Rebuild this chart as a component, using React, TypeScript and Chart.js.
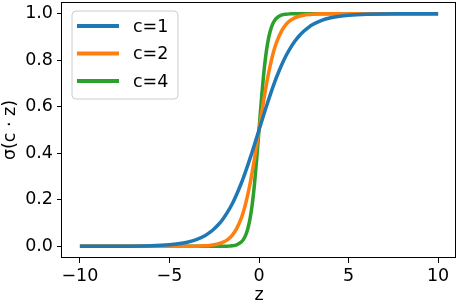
import React, { useEffect, useRef } from "react";
import { Chart, registerables } from "chart.js";

Chart.register(...registerables);

const zValues = [
  -10, -8, -6, -5, -4.5, -4, -3.5, -3, -2.75, -2.5, -2.25, -2, -1.75, -1.5, -1.25, -1,
  -0.875, -0.75, -0.625, -0.5, -0.375, -0.25, -0.125, 0,
  0.125, 0.25, 0.375, 0.5, 0.625, 0.75, 0.875, 1, 1.25, 1.5, 1.75, 2, 2.25, 2.5, 2.75,
  3, 3.5, 4, 4.5, 5, 6, 8, 10,
];

const sigmaC1 = [
  0.0, 0.0003, 0.0025, 0.0067, 0.011, 0.018, 0.029, 0.047, 0.06, 0.076, 0.095, 0.119, 0.148, 0.182, 0.223, 0.269,
  0.294, 0.321, 0.349, 0.378, 0.407, 0.438, 0.469, 0.5,
  0.531, 0.562, 0.593, 0.622, 0.651, 0.679, 0.706, 0.731, 0.777, 0.818, 0.852, 0.881, 0.905, 0.924, 0.94,
  0.953, 0.971, 0.982, 0.989, 0.9933, 0.9975, 0.9997, 1.0,
];

const sigmaC2 = [
  0.0, 0.0, 0.0, 0.0, 0.0001, 0.0003, 0.0009, 0.0025, 0.0041, 0.0067, 0.011, 0.018, 0.029, 0.047, 0.076, 0.119,
  0.148, 0.182, 0.223, 0.269, 0.321, 0.378, 0.438, 0.5,
  0.562, 0.622, 0.679, 0.731, 0.777, 0.818, 0.852, 0.881, 0.924, 0.953, 0.971, 0.982, 0.989, 0.9933, 0.9959,
  0.9975, 0.9991, 0.9997, 0.9999, 1.0, 1.0, 1.0, 1.0,
];

const sigmaC4 = [
  0.0, 0.0, 0.0, 0.0, 0.0, 0.0, 0.0, 0.0, 0.0, 0.0, 0.0001, 0.0003, 0.0009, 0.0025, 0.0067, 0.018,
  0.029, 0.047, 0.076, 0.119, 0.182, 0.269, 0.378, 0.5,
  0.622, 0.731, 0.818, 0.881, 0.924, 0.953, 0.971, 0.982, 0.9933, 0.9975, 0.9991, 0.9997, 0.9999, 1.0, 1.0,
  1.0, 1.0, 1.0, 1.0, 1.0, 1.0, 1.0, 1.0,
];

const seriesLabels = ["c=1", "c=2", "c=4"];
const seriesColors = ["#1f77b4", "#ff7f0e", "#2ca02c"];
const xTicks = [-10, -5, 0, 5, 10];
const yTicks = [0, 0.2, 0.4, 0.6, 0.8, 1.0];

const FONT = "'DejaVu Sans', sans-serif";
const FS = 17.5;

const framePlugin = {
  id: "frame",
  afterDraw(chart: any) {
    const { ctx, chartArea } = chart;
    const { left, top, right, bottom } = chartArea;
    ctx.save();
    ctx.strokeStyle = "#000";
    ctx.lineWidth = 1;
    ctx.strokeRect(Math.round(left) - 0.5, Math.round(top) + 0.5, Math.round(right - left), Math.round(bottom - top) - 1);

    // legend
    const lx = left + 10;
    const ly = top + 9;
    const lw = 106;
    const lh = 88;
    const r = 4;
    ctx.beginPath();
    ctx.moveTo(lx + r, ly);
    ctx.lineTo(lx + lw - r, ly);
    ctx.arcTo(lx + lw, ly, lx + lw, ly + r, r);
    ctx.lineTo(lx + lw, ly + lh - r);
    ctx.arcTo(lx + lw, ly + lh, lx + lw - r, ly + lh, r);
    ctx.lineTo(lx + r, ly + lh);
    ctx.arcTo(lx, ly + lh, lx, ly + lh - r, r);
    ctx.lineTo(lx, ly + r);
    ctx.arcTo(lx, ly, lx + r, ly, r);
    ctx.closePath();
    ctx.fillStyle = "rgba(255,255,255,0.8)";
    ctx.fill();
    ctx.strokeStyle = "#cccccc";
    ctx.lineWidth = 1;
    ctx.stroke();

    chart.data.datasets.forEach((ds: any, i: number) => {
      const yy = ly + 15 + i * 27.5;
      ctx.beginPath();
      ctx.moveTo(lx + 5, yy);
      ctx.lineTo(lx + 47, yy);
      ctx.strokeStyle = ds.borderColor;
      ctx.lineWidth = 4;
      ctx.stroke();
      ctx.fillStyle = "#000";
      ctx.font = `${FS}px ${FONT}`;
      ctx.textBaseline = "middle";
      ctx.textAlign = "left";
      ctx.fillText(ds.label, lx + 61, yy + 1);
    });
    ctx.restore();
  },
};

export default function App() {
  const ref = useRef<HTMLCanvasElement | null>(null);

  useEffect(() => {
    if (!ref.current) return;
    const seriesValues = [sigmaC1, sigmaC2, sigmaC4];
    const chart = new Chart(ref.current, {
      type: "line",
      data: {
        datasets: seriesValues.map((vals, i) => ({
          label: seriesLabels[i],
          data: zValues.map((z, j) => ({ x: z, y: vals[j] })),
          borderColor: seriesColors[i],
          backgroundColor: seriesColors[i],
          borderWidth: 3.5,
          pointRadius: 0,
          fill: false,
          cubicInterpolationMode: "monotone" as const,
        })),
      },
      options: {
        animation: false,
        responsive: false,
        layout: { padding: { left: 0, right: 2, top: 2, bottom: 0 } },
        plugins: { legend: { display: false }, tooltip: { enabled: false } },
        scales: {
          x: {
            type: "linear",
            min: -11,
            max: 11,
            afterBuildTicks: (scale: any) => {
              scale.ticks = xTicks.map((v) => ({ value: v }));
            },
            afterFit: (scale: any) => {
              scale.height = 46;
              scale.paddingLeft = 0;
              scale.paddingRight = 0;
              scale.paddingTop = 0;
              scale.paddingBottom = 0;
            },
            grid: { drawOnChartArea: false, drawTicks: true, tickLength: 5, color: "#000", lineWidth: 1 },
            border: { display: false },
            ticks: {
              padding: 3,
              color: "#000",
              font: { family: FONT, size: FS },
              maxRotation: 0,
              callback: (v: any) => (v < 0 ? "\u2212" + Math.abs(v) : String(v)),
            },
            title: {
              display: true,
              text: "z",
              color: "#000",
              font: { family: FONT, size: FS, lineHeight: 1 },
              padding: { top: 0, bottom: 0 },
            },
          },
          y: {
            type: "linear",
            min: -0.05,
            max: 1.05,
            afterBuildTicks: (scale: any) => {
              scale.ticks = yTicks.map((v) => ({ value: v }));
            },
            afterFit: (scale: any) => {
              scale.width = 62;
              scale.paddingLeft = 0;
              scale.paddingRight = 0;
              scale.paddingTop = 0;
              scale.paddingBottom = 0;
            },
            grid: { drawOnChartArea: false, drawTicks: true, tickLength: 5, color: "#000", lineWidth: 1 },
            border: { display: false },
            ticks: {
              padding: 4,
              color: "#000",
              font: { family: FONT, size: FS },
              callback: (v: any) => Number(v).toFixed(1),
            },
            title: {
              display: true,
              text: "σ(c · z)",
              color: "#000",
              font: { family: FONT, size: FS, lineHeight: 1 },
              padding: { top: 2, bottom: 0 },
            },
          },
        },
      },
      plugins: [framePlugin],
    });
    return () => chart.destroy();
  }, []);

  return (
    <div style={{ position: "absolute", left: 0, top: 0, width: 458, height: 304, background: "#fff" }}>
      <canvas ref={ref} width={458} height={304} style={{ display: "block" }} />
    </div>
  );
}
